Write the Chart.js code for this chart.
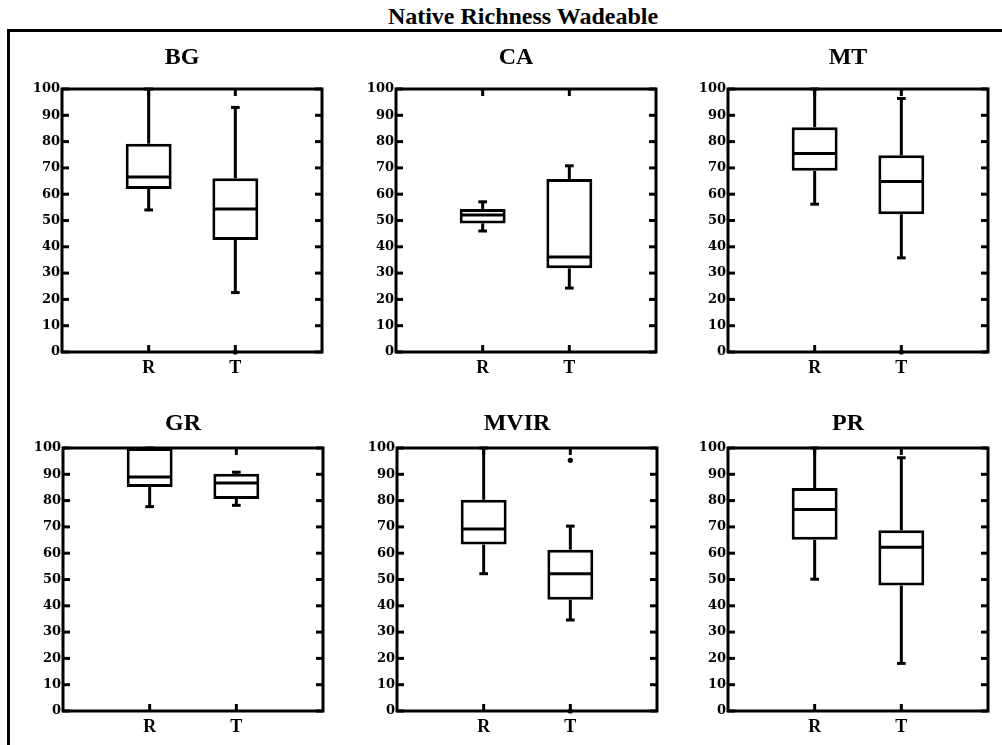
<!DOCTYPE html>
<html>
<head>
<meta charset="utf-8">
<script src="https://cdn.jsdelivr.net/npm/chart.js@4.4.1/dist/chart.umd.min.js"></script>
<style>
  html, body { margin: 0; padding: 0; background: #fff; width: 1002px; height: 745px; overflow: hidden; }
  #frame { position: absolute; left: 7px; top: 29px; width: 1100px; height: 800px;
           border-left: 3px solid #000; border-top: 3px solid #000; }
  #heading { position: absolute; left: 323px; top: 4px; width: 400px; margin: 0;
             text-align: center; color: #000;
             font: bold 24px/24px "Liberation Serif", "Times New Roman", serif; }
  .panel { position: absolute; }
</style>
</head>
<body>
<div id="frame"></div>
<h1 id="heading">Native Richness Wadeable</h1>
<div id="panels"></div>
<script>
// Sites and groups
const panelNames = ['BG', 'CA', 'MT', 'GR', 'MVIR', 'PR'];
const groupLabels = ['R', 'T'];
const yTickValues = [0, 10, 20, 30, 40, 50, 60, 70, 80, 90, 100];

// Box statistics per site, group R
const whiskerLowR  = [54.0, 46.0, 56.2, 77.7, 52.2, 50.1];
const quartile1R   = [62.0, 48.9, 68.9, 85.2, 63.3, 65.1];
const medianR      = [66.5, 52.1, 75.5, 89.0, 69.2, 76.6];
const quartile3R   = [79.2, 54.4, 85.5, 100.0, 80.3, 84.8];
const whiskerHighR = [100.0, 57.1, 100.0, 100.0, 100.0, 100.0];

// Box statistics per site, group T
const whiskerLowT  = [22.6, 24.3, 35.8, 78.2, 34.6, 18.1];
const quartile1T   = [42.6, 31.8, 52.4, 80.6, 42.3, 47.7];
const medianT      = [54.4, 36.1, 64.8, 86.7, 52.2, 62.3];
const quartile3T   = [66.1, 65.8, 74.8, 90.2, 61.3, 68.7];
const whiskerHighT = [93.0, 70.8, 96.4, 90.8, 70.3, 96.3];

// Outlying points per site
const outliersR = [[], [], [], [], [], []];
const outliersT = [[0], [], [0], [], [95.3, 0], []];

// Page placement of each panel's canvas (left, top) and title offsets
const panelSpots = [
  { left: 22,  top: 39,  titleRise: 31 },
  { left: 356, top: 39,  titleRise: 31 },
  { left: 688, top: 39,  titleRise: 31 },
  { left: 23,  top: 398, titleRise: 24 },
  { left: 357, top: 398, titleRise: 24 },
  { left: 688, top: 398, titleRise: 24 }
];
const CANVAS_W = 306, CANVAS_H = 345;
const Y_AXIS_W = 40, X_AXIS_H = 32, TOP_SPACE = 50;
const CAP_HALF = 0.05;    // whisker cap half-width, x units
const BOX_HALF = 0.25;    // box half-width, x units
const TICK_LEN = 7;

const tickFont = { family: '"DejaVu Serif", serif', size: 13, weight: 'bold' };
const groupFont = { family: '"Liberation Serif", "Times New Roman", serif', size: 18, weight: 'bold' };

function line(ctx, x1, y1, x2, y2) {
  ctx.beginPath(); ctx.moveTo(x1, y1); ctx.lineTo(x2, y2); ctx.stroke();
}

// Axes box, inward ticks, whiskers, medians and the panel title
const boxPlotPlugin = {
  id: 'boxPlot',
  beforeDatasetsDraw(chart, args, opts) {
    const { ctx, chartArea: a, scales: { x, y } } = chart;
    const st = opts.stats;
    ctx.save();
    ctx.strokeStyle = '#000';
    ctx.lineCap = 'butt';
    // frame
    ctx.lineWidth = 3;
    ctx.strokeRect(a.left, a.top, a.right - a.left, a.bottom - a.top);
    // inward ticks
    y.ticks.forEach(t => {
      const py = y.getPixelForValue(t.value);
      line(ctx, a.left, py, a.left + TICK_LEN, py);
      line(ctx, a.right, py, a.right - TICK_LEN, py);
    });
    x.ticks.forEach(t => {
      const px = x.getPixelForValue(t.value);
      line(ctx, px, a.top, px, a.top + TICK_LEN);
      line(ctx, px, a.bottom, px, a.bottom - TICK_LEN);
    });
    // whiskers and caps
    ctx.lineWidth = 3;
    st.forEach((s, i) => {
      const cx = x.getPixelForValue(i + 1);
      const cw = x.getPixelForValue(i + 1 + CAP_HALF) - cx;
      const yHi = y.getPixelForValue(s.high), yQ3 = y.getPixelForValue(s.q3);
      const yLo = y.getPixelForValue(s.low), yQ1 = y.getPixelForValue(s.q1);
      line(ctx, cx, yQ3, cx, yHi);
      line(ctx, cx, yQ1, cx, yLo);
      line(ctx, cx - cw, yHi, cx + cw, yHi);
      line(ctx, cx - cw, yLo, cx + cw, yLo);
    });
    ctx.restore();
  },
  afterDatasetsDraw(chart, args, opts) {
    const { ctx, chartArea: a, scales: { x, y } } = chart;
    ctx.save();
    ctx.strokeStyle = '#000';
    ctx.lineWidth = 3;
    opts.stats.forEach((s, i) => {
      const l = x.getPixelForValue(i + 1 - BOX_HALF), r = x.getPixelForValue(i + 1 + BOX_HALF);
      const py = y.getPixelForValue(s.median);
      line(ctx, l, py, r, py);
    });
    // panel title
    ctx.fillStyle = '#000';
    ctx.font = 'bold 24px "Liberation Serif", "Times New Roman", serif';
    ctx.textAlign = 'center';
    ctx.textBaseline = 'middle';
    ctx.fillText(opts.title, (a.left + a.right) / 2 - 10, a.top - opts.titleRise);
    ctx.restore();
  }
};

const host = document.getElementById('panels');

panelNames.forEach((name, p) => {
  const spot = panelSpots[p];
  const wrap = document.createElement('div');
  wrap.className = 'panel';
  wrap.style.left = spot.left + 'px';
  wrap.style.top = spot.top + 'px';
  const canvas = document.createElement('canvas');
  canvas.width = CANVAS_W;
  canvas.height = CANVAS_H;
  wrap.appendChild(canvas);
  host.appendChild(wrap);

  const stats = [
    { low: whiskerLowR[p], q1: quartile1R[p], median: medianR[p], q3: quartile3R[p], high: whiskerHighR[p] },
    { low: whiskerLowT[p], q1: quartile1T[p], median: medianT[p], q3: quartile3T[p], high: whiskerHighT[p] }
  ];
  const outlierPoints = [
    ...outliersR[p].map(v => ({ x: 1, y: v })),
    ...outliersT[p].map(v => ({ x: 2, y: v }))
  ];

  new Chart(canvas, {
    type: 'bar',
    data: {
      datasets: [
        {
          type: 'bar',
          data: stats.map((s, i) => ({ x: i + 1, y: [s.q1, s.q3] })),
          backgroundColor: '#fff',
          borderColor: '#000',
          borderWidth: 3,
          borderSkipped: false,
          barPercentage: 2 * BOX_HALF + 0.03,
          categoryPercentage: 1
        },
        {
          type: 'scatter',
          data: outlierPoints,
          pointRadius: 2.6,
          pointBackgroundColor: '#000',
          pointBorderWidth: 0,
          clip: false
        }
      ]
    },
    options: {
      responsive: false,
      animation: false,
      events: [],
      layout: { padding: { top: TOP_SPACE, right: 6, left: 0, bottom: 0 } },
      plugins: {
        legend: { display: false },
        tooltip: { enabled: false },
        boxPlot: { stats, title: name, titleRise: spot.titleRise }
      },
      scales: {
        x: {
          type: 'linear',
          min: 0,
          max: 3,
          offset: false,
          grid: { display: false, drawTicks: false },
          border: { display: false },
          afterBuildTicks: s => { s.ticks = groupLabels.map((g, i) => ({ value: i + 1 })); },
          afterFit: s => { s.height = X_AXIS_H; },
          ticks: {
            font: groupFont,
            color: '#000',
            padding: 6,
            maxRotation: 0,
            autoSkip: false,
            callback: v => groupLabels[v - 1]
          }
        },
        y: {
          type: 'linear',
          min: 0,
          max: 100,
          grid: { display: false, drawTicks: false },
          border: { display: false },
          afterBuildTicks: s => { s.ticks = yTickValues.map(v => ({ value: v })); },
          afterFit: s => { s.width = Y_AXIS_W; },
          ticks: {
            font: tickFont,
            color: '#000',
            padding: 2,
            autoSkip: false,
            callback: v => String(v)
          }
        }
      }
    },
    plugins: [boxPlotPlugin]
  });
});
</script>
</body>
</html>
